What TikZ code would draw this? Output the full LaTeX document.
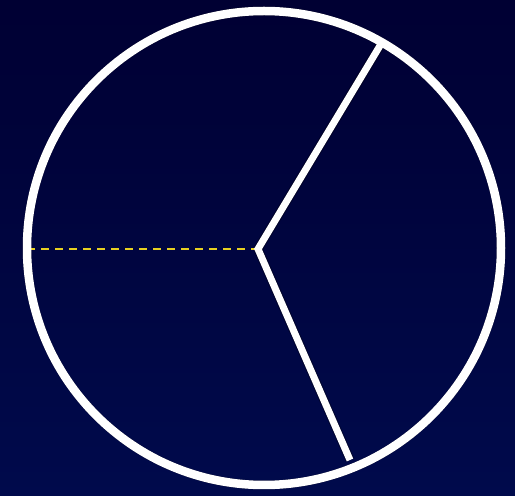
\documentclass[tikz,border=0pt]{standalone}
\usetikzlibrary{shadings}
\definecolor{bgtop}{HTML}{000033}
\definecolor{bgbot}{HTML}{000A4C}
\definecolor{dashy}{HTML}{E8D020}
\tikzset{
  white line/.style={line width=7pt, draw=white},
  shadow line/.style={line width=9pt, draw=black, opacity=0.35},
  radius line/.style={line width=1.8pt, draw=dashy, dash pattern=on 8pt off 6pt}
}
\begin{document}
\begin{tikzpicture}[x=1pt,y=1pt]
\shade[top color=bgtop, bottom color=bgbot] (0,0) rectangle (515,496);
\useasboundingbox (0,0) rectangle (515,496);
\coordinate (c) at (264,248);
\coordinate (h) at (258,247);
\coordinate (l) at (27,247);
\coordinate (t) at (381,452);
\coordinate (b) at (350,36);
% shadows
\begin{scope}[shift={(3,-3)}]
\draw[shadow line] (c) circle (237);
\draw[shadow line] (t) -- (h) -- (b);
\end{scope}
\draw[radius line] (l) -- (h);
\draw[white line, line join=miter] (t) -- (h) -- (b);
\draw[white line, line width=8.5pt] (c) circle (237);
\end{tikzpicture}
\end{document}
